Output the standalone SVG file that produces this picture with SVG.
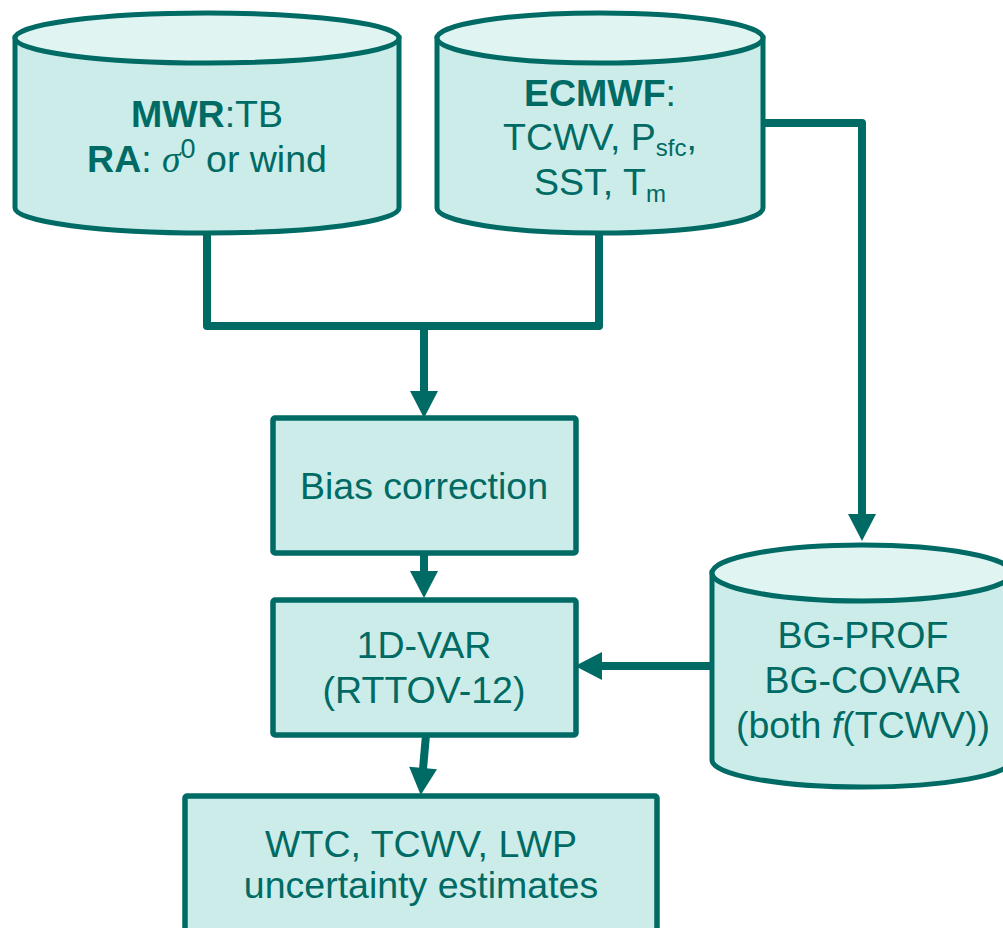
<svg xmlns="http://www.w3.org/2000/svg" width="1003" height="928" viewBox="0 0 1003 928">
<style>
.body{fill:#CBECE8;stroke:#006A64;stroke-width:5}
.top{fill:#E0F4F2;stroke:#006A64;stroke-width:5}
.box{fill:#CBECE8;stroke:#006A64;stroke-width:5.5}
.t{font-family:"Liberation Sans",Arial,sans-serif;font-size:37.5px;fill:#006A64;text-anchor:middle}
.b{font-weight:bold}
.conn{fill:none;stroke:#006A64;stroke-width:8;stroke-linejoin:round}
</style>
<defs>
<marker id="ah" markerUnits="userSpaceOnUse" markerWidth="28" markerHeight="28" viewBox="0 0 27 28" refX="1" refY="14" orient="auto">
<path d="M0,0 L27,14 L0,28 Z" fill="#006A64"/>
</marker>
</defs>
<rect width="1003" height="928" fill="#FFFFFF"/>
<g id="connectors">
<path class="conn" d="M207,232 V326 H599 V232"/>
<path class="conn" d="M424,326 V392" marker-end="url(#ah)"/>
<path class="conn" d="M424,553 V572" marker-end="url(#ah)"/>
<path class="conn" d="M426,735 L423,769" marker-end="url(#ah)"/>
<path class="conn" d="M763,123 H862 V515" marker-end="url(#ah)"/>
<path class="conn" d="M712,666 H601" marker-end="url(#ah)"/>
</g>
<g id="mwr">
<path class="body" d="M15,38 V208 A192,25 0 0 0 399,208 V38 Z"/>
<ellipse class="top" cx="207" cy="38" rx="192" ry="25"/>
<text class="t" x="207" y="127"><tspan class="b">MWR</tspan>:TB</text>
<text class="t" x="207" y="172"><tspan class="b">RA</tspan>: <tspan font-family="'Liberation Serif',serif" font-style="italic">σ</tspan><tspan font-size="27" dy="-14">0</tspan><tspan dy="14"> or wind</tspan></text>
</g>
<g id="ecmwf">
<path class="body" d="M437,38 V208 A163,25 0 0 0 763,208 V38 Z"/>
<ellipse class="top" cx="600" cy="38" rx="163" ry="25"/>
<text class="t" x="600" y="106"><tspan class="b">ECMWF</tspan>:</text>
<text class="t" x="600" y="150">TCWV, P<tspan font-size="24" dy="6">sfc</tspan><tspan dy="-6">,</tspan></text>
<text class="t" x="600" y="195">SST, T<tspan font-size="24" dy="7">m</tspan></text>
</g>
<g id="bg">
<path class="body" d="M712,573 V760 A150,27 0 0 0 1012,760 V573 Z"/>
<ellipse class="top" cx="862" cy="573" rx="150" ry="28"/>
<text class="t" x="863" y="648">BG-PROF</text>
<text class="t" x="863" y="693">BG-COVAR</text>
<text class="t" x="863" y="738">(both <tspan font-style="italic">f</tspan>(TCWV))</text>
</g>
<g id="bias">
<rect class="box" x="273" y="418" width="303" height="135" rx="2"/>
<text class="t" x="424" y="499">Bias correction</text>
</g>
<g id="var1d">
<rect class="box" x="273" y="600" width="303" height="135" rx="2"/>
<text class="t" x="424" y="658">1D-VAR</text>
<text class="t" x="424" y="703">(RTTOV-12)</text>
</g>
<g id="output">
<rect class="box" x="185" y="796" width="472" height="200" rx="2"/>
<text class="t" x="421" y="857">WTC, TCWV, LWP</text>
<text class="t" x="421" y="898">uncertainty estimates</text>
</g>
</svg>
